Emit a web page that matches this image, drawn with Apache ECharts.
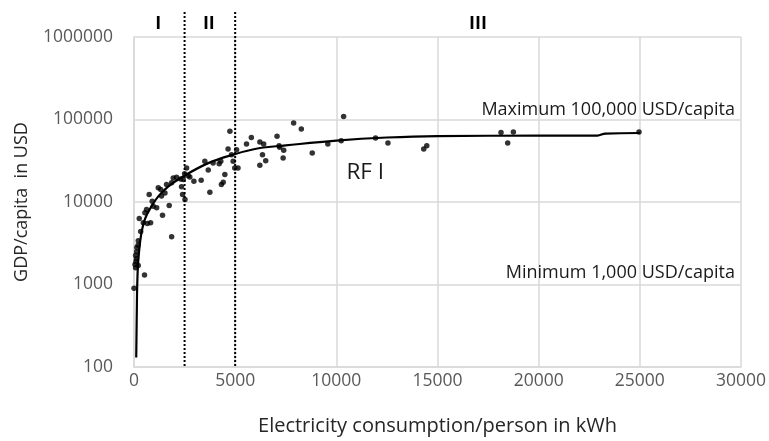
<!DOCTYPE html>
<html><head><meta charset="utf-8">
<script src="https://cdn.jsdelivr.net/npm/echarts@6/dist/echarts.min.js"></script>
<style>html,body{margin:0;padding:0;background:#fff}#c{width:769px;height:441px}</style>
</head><body><div id="c"></div>
<script>
// Scatter: [electricity kWh/person, GDP/capita USD]
const countryPoints = [
  [0,900],[50,1750],[80,1600],[100,1900],[120,2050],[80,2250],[130,2500],[140,2800],[200,3000],[210,1700],
  [520,1300],[210,3400],[330,4400],[260,6300],[460,5600],[660,5500],[540,7400],[820,5600],[620,8100],
  [750,12300],[900,10200],[950,8900],[1120,8500],[1410,6900],[1200,14900],[1320,14200],[1360,11800],
  [1530,12900],[1740,9100],[1860,3800],[1610,16300],[1940,19500],[1860,17100],[2100,20000],[2300,19000],[2500,22000],
  [2430,18700],[2350,15300],[2400,12300],[2520,10700],[2600,25800],[2680,20800],[2760,20100],[2960,17900],
  [3320,18400],[3500,31100],[3670,24400],[3750,13100],[3910,29600],[4210,29000],[4320,16300],[4410,17300],
  [4490,21500],[4290,31100],[4650,44000],[4740,72000],[4820,37500],[4900,31100],[4980,25800],[5140,25800],
  [5070,43000],[5560,50300],[5800,60600],[6220,53200],[6410,50300],[6350,37500],[6510,31700],[6220,27800],
  [7070,62500],[7370,34100],[7890,90600],[8270,76600],[7170,48000],[7200,46000],[7400,42300],[8810,39300],
  [9580,50300],[10240,55300],[10360,109000],[11940,59700],[12550,51900],[14320,44000],[14470,48200],
  [18140,69600],[18750,70600],[18470,51900],[24960,70600]
];
const fitCurve = [
  [110,130],[140,500],[160,1000],[215,2000],[345,3900],[540,6200],[870,8900],[1200,11700],[1700,15500],
  [2430,20400],[3670,29600],[4900,37500],[6100,44500],[7500,48500],[10000,55500],[12500,60500],
  [15000,63000],[20000,63700],[22900,63800],[23300,67500],[25000,68600]
];
const phaseBoundaries = [2500, 5000];
const phaseLabels = [{x:1200,t:'I'},{x:3700,t:'II'},{x:17000,t:'III'}];
const xTicks = {min:0, max:30000, interval:5000};
const yTicks = {min:100, max:1000000};
const annotations = [
  {x:29700, y:130000, t:'Maximum 100,000 USD/capita', align:'right', size:18},
  {x:29700, y:1400, t:'Minimum 1,000 USD/capita', align:'right', size:18},
  {x:10500, y:23000, t:'RF I', align:'left', size:22.5}
];

const FONT = 'Open Sans';
const chart = echarts.init(document.getElementById('c'), null, {renderer:'canvas'});
const option = {
  animation:false,
  grid:{left:134, right:27, top:37, bottom:73},
  xAxis:{type:'value', min:xTicks.min, max:xTicks.max, interval:xTicks.interval,
    name:'Electricity consumption/person in kWh', nameLocation:'middle', nameGap:49,
    nameTextStyle:{fontFamily:FONT, fontSize:20, color:'#262626'},
    axisLine:{show:true, lineStyle:{color:'#d9d9d9', width:1.5}}, axisTick:{show:false},
    axisLabel:{fontFamily:FONT, fontSize:17.5, color:'#595959', margin:5, formatter:v=>String(v)},
    splitLine:{show:true, lineStyle:{color:'#d9d9d9', width:1.5}}},
  yAxis:{type:'log', logBase:10, min:yTicks.min, max:yTicks.max,
    name:'GDP/capita  in USD', nameLocation:'middle', nameGap:103,
    nameTextStyle:{fontFamily:FONT, fontSize:18, color:'#262626'},
    axisLine:{show:true, lineStyle:{color:'#d9d9d9', width:1.5}}, axisTick:{show:false},
    axisLabel:{fontFamily:FONT, fontSize:17.5, color:'#595959', margin:21, formatter:v=>String(Math.round(v))},
    splitLine:{show:true, lineStyle:{color:'#d9d9d9', width:1.5}}},
  series:[
    {type:'line', data:fitCurve, smooth:0.4, showSymbol:false, symbol:'none',
     lineStyle:{color:'#000', width:2.2}, z:3,
     markPoint:{symbol:'circle', symbolSize:0,
       label:{show:true, fontFamily:FONT, color:'#000', formatter:p=>p.name},
       data:annotations.map(a=>({name:a.t, coord:[a.x,a.y],
         label:{align:a.align, verticalAlign:'middle', fontSize:a.size, position:'inside', color:'#1a1a1a'}}))}},
    {type:'scatter', data:countryPoints, symbol:'circle', symbolSize:5.5,
     itemStyle:{color:'#000'}, z:4}
  ]
};
chart.setOption(option);

function addGraphics(){
  const els = [];
  const topPx = chart.convertToPixel({gridIndex:0}, [0, yTicks.max])[1];
  const botPx = chart.convertToPixel({gridIndex:0}, [0, yTicks.min])[1];
  phaseBoundaries.forEach(b=>{
    const x = chart.convertToPixel({gridIndex:0}, [b, yTicks.min])[0];
    els.push({type:'line', shape:{x1:x, y1:topPx-25, x2:x, y2:botPx},
      style:{stroke:'#000', lineWidth:2, lineDash:[2,2]}, z:10});
  });
  phaseLabels.forEach(p=>{
    const x = chart.convertToPixel({gridIndex:0}, [p.x, yTicks.max])[0];
    els.push({type:'text', x:x, y:topPx-13, style:{text:p.t, fontFamily:FONT, fontWeight:'bold',
      fontSize:18, fill:'#000', align:'center', verticalAlign:'middle'}, z:10});
  });
  chart.setOption({graphic:els});
}
addGraphics();
</script></body></html>
